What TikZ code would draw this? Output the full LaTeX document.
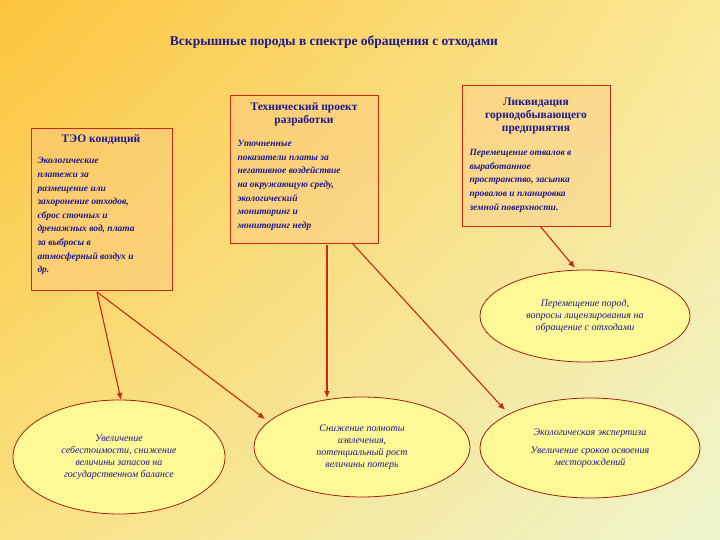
\documentclass[tikz,border=0pt]{standalone}
\usepackage{fontspec}
\setmainfont{Liberation Serif}
\usetikzlibrary{shapes.geometric,arrows.meta,shadings}
\definecolor{txt}{RGB}{30,25,140}
\definecolor{brd}{RGB}{200,40,20}
\definecolor{ell}{RGB}{255,248,150}
\definecolor{ul}{RGB}{252,196,60}
\definecolor{ur}{RGB}{250,232,150}
\definecolor{ll}{RGB}{250,225,130}
\definecolor{lr}{RGB}{238,245,205}
\begin{document}
\begin{tikzpicture}[x=1pt,y=-1pt,
  boxst/.style={draw=brd,line width=0.8pt,fill=orange!45,fill opacity=0.35},
  head/.style={font=\bfseries\fontsize{11.5}{13}\selectfont,text=txt,align=center},
  body/.style={font=\bfseries\itshape\fontsize{9.5}{13.6}\selectfont,text=txt,align=left},
  ellst/.style={ellipse,draw=brd!80!black,line width=0.8pt,fill=ell,inner sep=0pt,font=\itshape\fontsize{10}{12}\selectfont,text=txt,align=center},
  arr/.style={draw=brd,line width=1.1pt,-{Latex[length=7pt,width=6pt]}}]
\shade[upper left=ul,upper right=ur,lower left=ll,lower right=lr] (0,0) rectangle (720,540);
\useasboundingbox (0,0) rectangle (720,540);
\node[font=\bfseries\fontsize{13.5}{15}\selectfont,text=txt] (title) at (334,42) {Вскрышные породы в спектре обращения с отходами};
% boxes
\draw[boxst] (31,128) rectangle (172,290);
\node[head] (h1) at (101,140) {ТЭО кондиций};
\node[body,anchor=north west] (b1) at (34,154) {Экологические\\платежи за\\размещение или\\захоронение отходов,\\сброс сточных и\\дренажных вод, плата\\за выбросы в\\атмосферный воздух и\\др.};
\coordinate (p1) at (97,292);
\draw[boxst] (230,95) rectangle (378,243);
\node[head] (h2) at (304,114) {Технический проект\\разработки};
\node[body,anchor=north west] (b2) at (234,137) {Уточненные\\показатели платы за\\негативное воздействие\\на окружающую среду,\\экологический\\мониторинг и\\мониторинг недр};
\coordinate (p2) at (327,245);
\coordinate (p3) at (352,243);
\draw[boxst] (462,85) rectangle (610,226);
\node[head] (h3) at (536,116) {Ликвидация\\горнодобывающего\\предприятия};
\node[body,anchor=north west] (b3) at (466,146) {Перемещение отвалов в\\выработанное\\пространство, засыпка\\провалов и планировка\\земной поверхности.};
\coordinate (p4) at (540,226);
% ellipses
\node[ellst,minimum width=210pt,minimum height=92pt] (e1) at (585,316) {Перемещение пород,\\вопросы лицензирования на\\обращение с отходами};
\node[ellst,minimum width=212pt,minimum height=114pt] (e2) at (119,457) {Увеличение\\себестоимости, снижение\\величины запасов на\\государственном балансе};
\node[ellst,minimum width=216pt,minimum height=100pt] (e3) at (362,447) {Снижение полноты\\извлечения,\\потенциальный рост\\величины потерь};
\node[ellst,minimum width=220pt,minimum height=100pt] (e4) at (590,448) {Экологическая экспертиза\\[6pt]Увеличение сроков освоения\\месторождений};
\draw[arr] (p1) -- (121,400);
\draw[arr] (p1) -- (265,419);
\draw[arr] (p2) -- (327,398);
\draw[arr] (p3) -- (505,410);
\draw[arr] (p4) -- (575,268);
\end{tikzpicture}
\end{document}
